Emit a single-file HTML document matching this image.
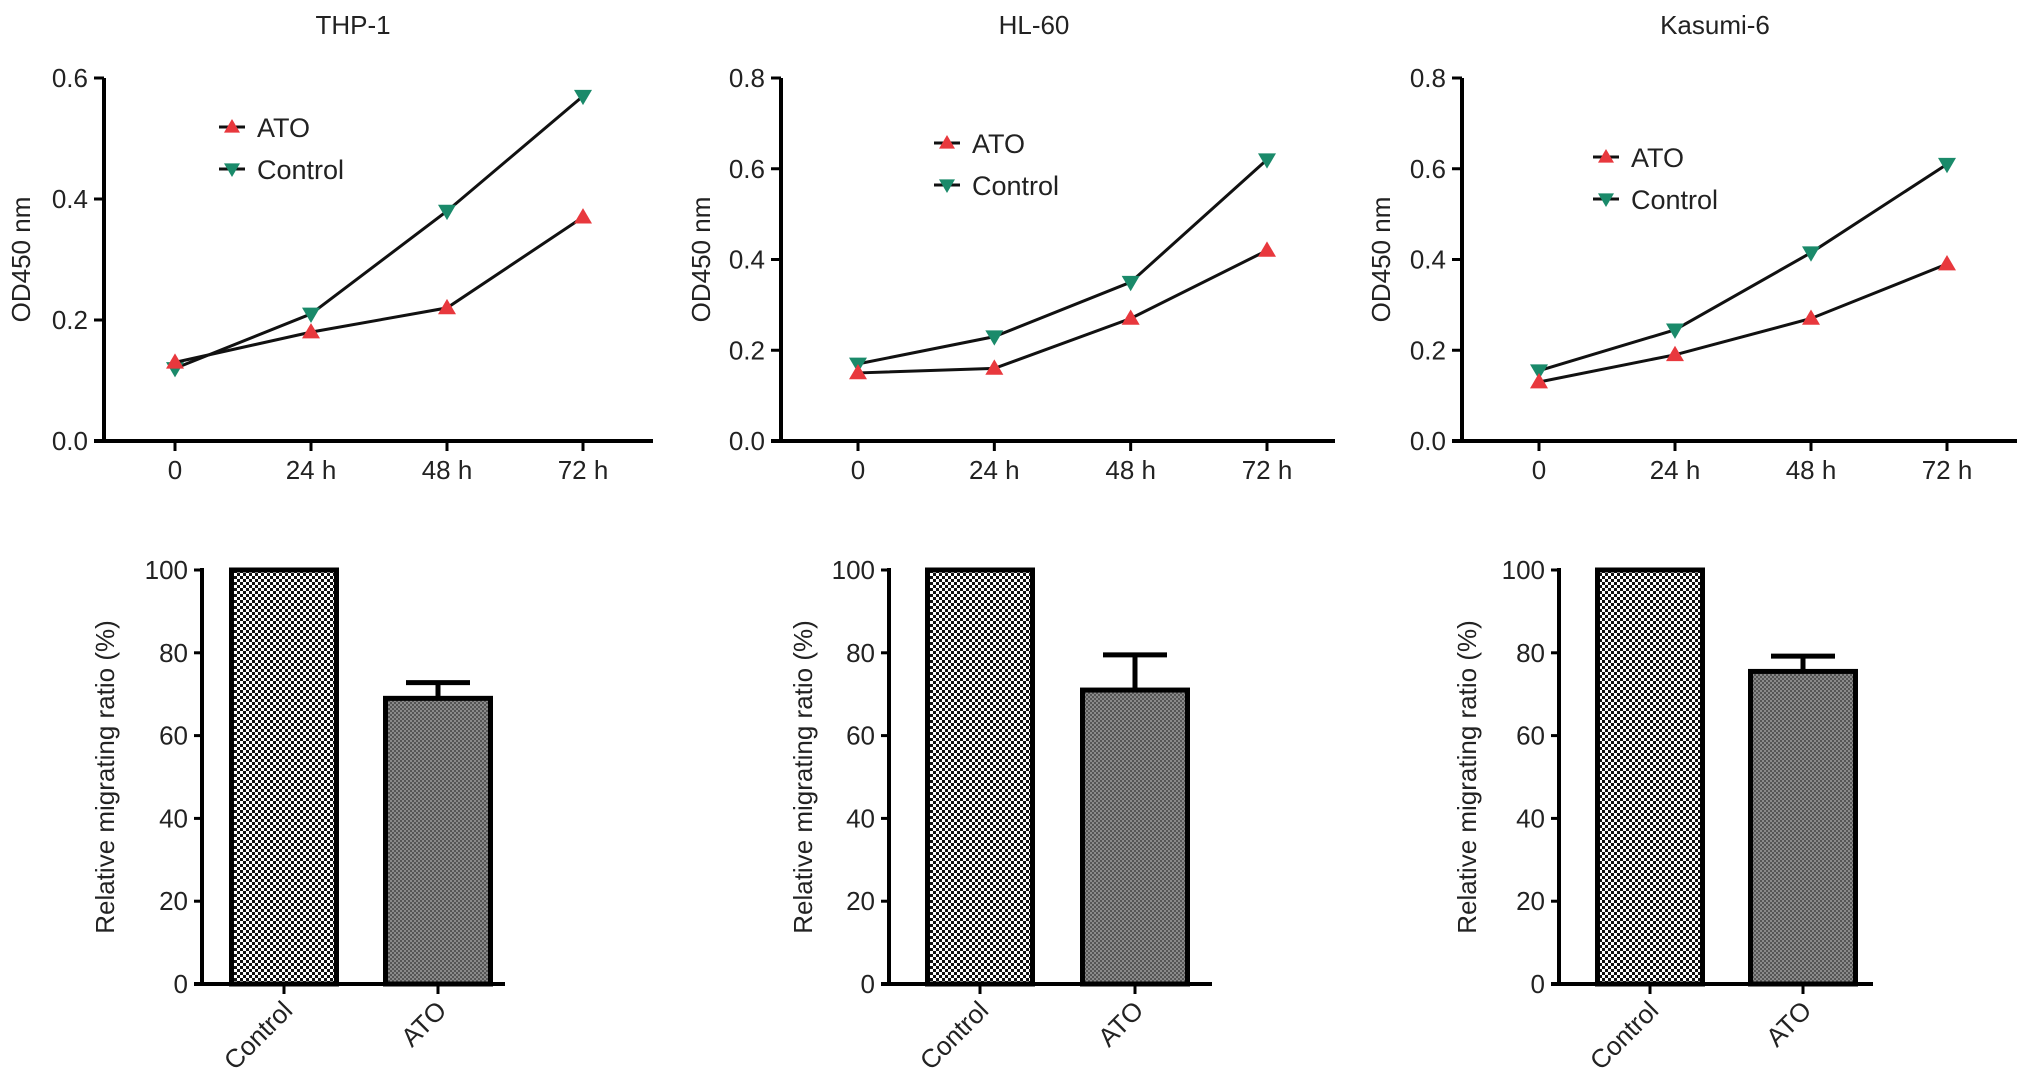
<!DOCTYPE html>
<html><head><meta charset="utf-8"><style>
html,body{margin:0;padding:0;background:#fff;}
svg{display:block;font-family:"Liberation Sans",Arial,sans-serif;}
</style></head><body>
<svg id="fig" width="2032" height="1087" viewBox="0 0 2032 1087" xmlns="http://www.w3.org/2000/svg">
<defs>
<pattern id="chk" width="6" height="6" patternUnits="userSpaceOnUse"><rect width="6" height="6" fill="#fff"/><rect width="3" height="3" fill="#111"/><rect x="3" y="3" width="3" height="3" fill="#111"/></pattern>
<pattern id="gry" width="4" height="4" patternUnits="userSpaceOnUse"><rect width="4" height="4" fill="#8a8a8a"/><rect width="2" height="2" fill="#555"/><rect x="2" y="2" width="2" height="2" fill="#555"/></pattern>
</defs>
</svg>
<script>
const timeLabels = ["0","24 h","48 h","72 h"];
const panelTitles = ["THP-1","HL-60","Kasumi-6"];
const atoThp = [0.13,0.18,0.22,0.37];
const ctlThp = [0.12,0.21,0.38,0.57];
const atoHl = [0.15,0.16,0.27,0.42];
const ctlHl = [0.17,0.23,0.35,0.62];
const atoKas = [0.13,0.19,0.27,0.39];
const ctlKas = [0.155,0.245,0.415,0.61];
const lineTicksA = [0,0.2,0.4,0.6];
const lineTicksB = [0,0.2,0.4,0.6,0.8];
const barCats = ["Control","ATO"];
const barThp = [100,69];
const errThp = [0,3.8];
const barHl = [100,71];
const errHl = [0,8.5];
const barKas = [100,75.5];
const errKas = [0,3.7];
const barTicks = [0,20,40,60,80,100];

const NS="http://www.w3.org/2000/svg";
const svg=document.getElementById('fig');
function el(tag,attrs,parent){const e=document.createElementNS(NS,tag);for(const k in attrs)e.setAttribute(k,attrs[k]);(parent||svg).appendChild(e);return e;}
function txt(s,attrs,parent){const t=el('text',attrs,parent);t.textContent=s;return t;}

function linePanel(cfg){
  const g=el('g',{});
  
  
  const ymax=cfg.ticks[cfg.ticks.length-1];
  const y=v=>cfg.y0-(v/ymax)*(cfg.y0-cfg.yTop);
  const x=i=>cfg.x0+i*(cfg.x3-cfg.x0)/3;
  const t=txt(cfg.title,{x:cfg.titleX,y:34,'text-anchor':'middle','font-size':26,fill:'#222'},g);
  
  
  const ya=el('line',{x1:cfg.ax,y1:cfg.yTop,x2:cfg.ax,y2:cfg.y0+2,stroke:'#000','stroke-width':4},g);
  
  
  const xa=el('line',{x1:cfg.ax-10,y1:cfg.y0,x2:cfg.xEnd,y2:cfg.y0,stroke:'#000','stroke-width':4},g);
  
  
  cfg.ticks.forEach(v=>{
    el('line',{x1:cfg.ax-10,y1:y(v),x2:cfg.ax,y2:y(v),stroke:'#000','stroke-width':3},g);
    const l=txt(v.toFixed(1),{x:cfg.ax-16,y:y(v)+9,'text-anchor':'end','font-size':26,fill:'#222'},g);
    
    
  });
  timeLabels.forEach((s,i)=>{
    el('line',{x1:x(i),y1:cfg.y0,x2:x(i),y2:cfg.y0+10,stroke:'#000','stroke-width':3},g);
    const l=txt(s,{x:x(i),y:cfg.y0+38,'text-anchor':'middle','font-size':26,fill:'#222'},g);
    
    
  });
  const yl=txt('OD450 nm',{x:0,y:0,transform:`translate(${cfg.ylX},${(cfg.yTop+cfg.y0)/2}) rotate(-90)`,'text-anchor':'middle','font-size':26,fill:'#222'},g);
  
  
  const series=[[cfg.ctl,'#1a8a6a',false,'control'],[cfg.ato,'#e8383d',true,'ato']];
  series.forEach(([d,c,up,n])=>{
    const p=el('polyline',{points:d.map((v,i)=>x(i)+','+y(v)).join(' '),fill:'none',stroke:'#111','stroke-width':3},g);
    
    
    d.forEach((v,i)=>{
      const cx=x(i),cy=y(v),s=9;
      const pts=up?`${cx},${cy-s} ${cx-s},${cy+s*0.7} ${cx+s},${cy+s*0.7}`:`${cx},${cy+s} ${cx-s},${cy-s*0.7} ${cx+s},${cy-s*0.7}`;
      const m=el('polygon',{points:pts,fill:c},g);
      
      
    });
  });
  [['ATO','#e8383d',true,cfg.legY],['Control','#1a8a6a',false,cfg.legY+42]].forEach(([s,c,up,ly])=>{
    const lg=el('g',{},g);
    
    
    const mx=cfg.legX;
    el('line',{x1:mx-13,y1:ly,x2:mx+13,y2:ly,stroke:'#111','stroke-width':3},lg);
    const sz=8;
    el('polygon',{points:up?`${mx},${ly-sz} ${mx-sz},${ly+sz*0.7} ${mx+sz},${ly+sz*0.7}`:`${mx},${ly+sz} ${mx-sz},${ly-sz*0.7} ${mx+sz},${ly-sz*0.7}`,fill:c},lg);
    txt(s,{x:mx+25,y:ly+10,'font-size':27,fill:'#222'},lg);
  });
}

function barPanel(cfg){
  const g=el('g',{});
  
  
  const y=v=>cfg.y0-(v/100)*(cfg.y0-cfg.yTop);
  const bw=105;
  const xc=i=>cfg.c0+i*cfg.gap;
  cfg.vals.forEach((v,i)=>{
    const r=el('rect',{x:xc(i)-bw/2,y:y(v),width:bw,height:cfg.y0-y(v),fill:i==0?'url(#chk)':'url(#gry)',stroke:'#000','stroke-width':5},g);
    
    
    if(cfg.err[i]>0){
      const e=el('path',{d:`M${xc(i)},${y(v)} V${y(v+cfg.err[i])} M${xc(i)-32},${y(v+cfg.err[i])} H${xc(i)+32}`,stroke:'#000','stroke-width':5,fill:'none'},g);
      
      
    }
  });
  const ya=el('line',{x1:cfg.ax,y1:cfg.yTop-2,x2:cfg.ax,y2:cfg.y0,stroke:'#000','stroke-width':4},g);
  
  
  const xa=el('line',{x1:cfg.ax-8,y1:cfg.y0,x2:cfg.xEnd,y2:cfg.y0,stroke:'#000','stroke-width':4},g);
  
  
  barTicks.forEach(v=>{
    el('line',{x1:cfg.ax-8,y1:y(v),x2:cfg.ax,y2:y(v),stroke:'#000','stroke-width':3},g);
    const l=txt(String(v),{x:cfg.ax-14,y:y(v)+9,'text-anchor':'end','font-size':26,fill:'#222'},g);
    
    
  });
  barCats.forEach((s,i)=>{
    el('line',{x1:xc(i),y1:cfg.y0,x2:xc(i),y2:cfg.y0+10,stroke:'#000','stroke-width':3},g);
    const l=txt(s,{x:0,y:0,transform:`translate(${xc(i)+10},${cfg.y0+28}) rotate(-45)`,'text-anchor':'end','font-size':26,fill:'#222'},g);
    
    
  });
  const yl=txt('Relative migrating ratio (%)',{x:0,y:0,transform:`translate(${cfg.ylX},${(cfg.yTop+cfg.y0)/2}) rotate(-90)`,'text-anchor':'middle','font-size':26,fill:'#222'},g);
  
  
}

linePanel({name:'thp1-growth-chart',title:panelTitles[0],titleX:353,ax:104,yTop:78,y0:441,xEnd:653,x0:175,x3:583,ticks:lineTicksA,ato:atoThp,ctl:ctlThp,ylX:30,legX:232,legY:127});
linePanel({name:'hl60-growth-chart',title:panelTitles[1],titleX:1034,ax:781,yTop:78,y0:441,xEnd:1335,x0:858,x3:1267,ticks:lineTicksB,ato:atoHl,ctl:ctlHl,ylX:710,legX:947,legY:143});
linePanel({name:'kasumi6-growth-chart',title:panelTitles[2],titleX:1715,ax:1462,yTop:78,y0:441,xEnd:2017,x0:1539,x3:1947,ticks:lineTicksB,ato:atoKas,ctl:ctlKas,ylX:1390,legX:1606,legY:157});
barPanel({name:'thp1-migration-chart',ax:202,yTop:570,y0:984,xEnd:505,c0:284,gap:154,vals:barThp,err:errThp,ylX:114});
barPanel({name:'hl60-migration-chart',ax:889,yTop:570,y0:984,xEnd:1212,c0:980,gap:155,vals:barHl,err:errHl,ylX:812});
barPanel({name:'kasumi6-migration-chart',ax:1559,yTop:570,y0:984,xEnd:1873,c0:1650,gap:153,vals:barKas,err:errKas,ylX:1476});
</script>
</body></html>
